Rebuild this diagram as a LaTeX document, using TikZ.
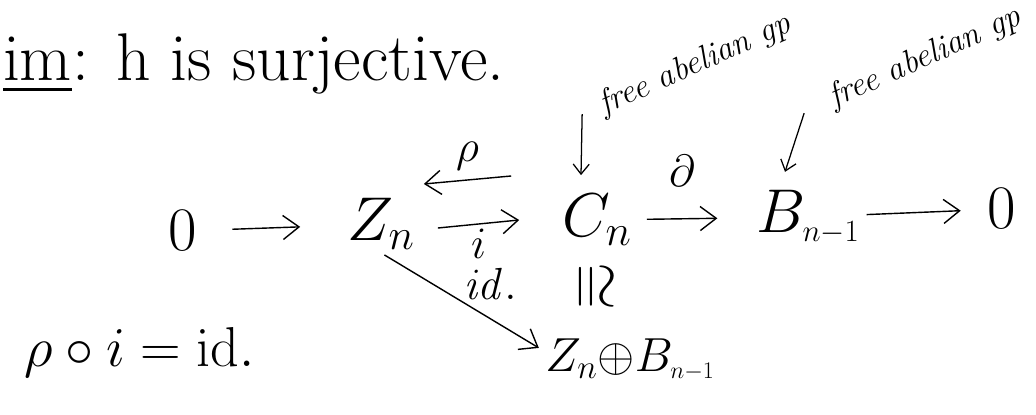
\RequirePackage{fix-cm}
\documentclass[tikz,border=0pt]{standalone}
\usepackage{amsmath,amssymb}
\usepackage{tikz}
\usetikzlibrary{arrows.meta,positioning}

\tikzset{
  obj/.style={inner sep=2pt,font=\fontsize{44}{50}\selectfont},
  lbl/.style={inner sep=1pt,font=\fontsize{32}{36}\selectfont},
  note/.style={inner sep=1pt,rotate=24,font=\fontsize{24}{28}\selectfont\itshape},
  map/.style={-{Straight Barb[length=4mm,width=6mm]},line width=1pt},
  pointer/.style={-{Straight Barb[length=2.5mm,width=4mm]},line width=0.9pt}
}

\begin{document}
\begin{tikzpicture}[x=0.025cm,y=-0.025cm]
    \useasboundingbox (0,0) rectangle (1036,414);
    % claim
    \node[obj,anchor=base west,font=\fontsize{48}{54}\selectfont] (claim) at (0,80) {\underline{im}: h is surjective.};
    % exact sequence
    \node[obj] (z0) at (183,231) {$0$};
    \node[obj] (Zn) at (381,224) {$Z_n$};
    \node[obj] (Cn) at (597,220) {$C_n$};
    \node[obj] (Bn) at (808,217) {$B_{\scriptscriptstyle n-1}$};
    \node[obj] (z1) at (1002,209) {$0$};
    \node[obj,rotate=-90] (iso) at (592,287) {$\cong$};
    \node[obj,font=\fontsize{34}{40}\selectfont] (sum) at (630,360) {$Z_n{\oplus}B_{\scriptscriptstyle n-1}$};
    \node[obj,font=\fontsize{40}{44}\selectfont] (rhoi) at (140,352) {$\rho\circ i=\mathrm{id}.$};
    % remarks
    \node[note] (free1) at (695,65) {free abelian gp};
    \node[note] (free2) at (925,58) {free abelian gp};
    % maps
    \draw[map,shorten <=0.8cm,shorten >=1.1cm] (z0) -- (Zn);
    \draw[map] ([xshift=0.5cm,yshift=-0.1cm]Zn.east) -- node[lbl,below=2pt] (i) {$i$} ([xshift=-1.0cm,yshift=0cm]Cn.west);
    \draw[map] ([xshift=-1.2cm,yshift=1.1cm]Cn.west) -- node[lbl,above=0.2cm] (rho) {$\rho$} ([xshift=0.15cm,yshift=1.0cm]Zn.east);
    \draw[map,shorten <=0.3cm,shorten >=0.9cm] (Cn) -- node[lbl,above=0.75cm,xshift=-0.3cm] (bd) {$\partial$} (Bn);
    \draw[map,shorten <=0.1cm,shorten >=0.6cm] (Bn) -- (z1);
    \draw[map,shorten <=0.1cm,shorten >=0.1cm] (Zn.south) -- node[lbl,pos=0.5,anchor=south west,inner sep=1pt] (id) {$\mathit{id}.$} ([yshift=0.25cm]sum.west);
    \draw[pointer] (free1.south west) ++(-24,-9) coordinate (p1) -- ([xshift=-0.4cm,yshift=0.4cm]Cn.north);
    \draw[pointer] (free2.south west) ++(-32,-3) coordinate (p2) -- ([xshift=-0.575cm,yshift=0.375cm]Bn.north);
\end{tikzpicture}
\end{document}
